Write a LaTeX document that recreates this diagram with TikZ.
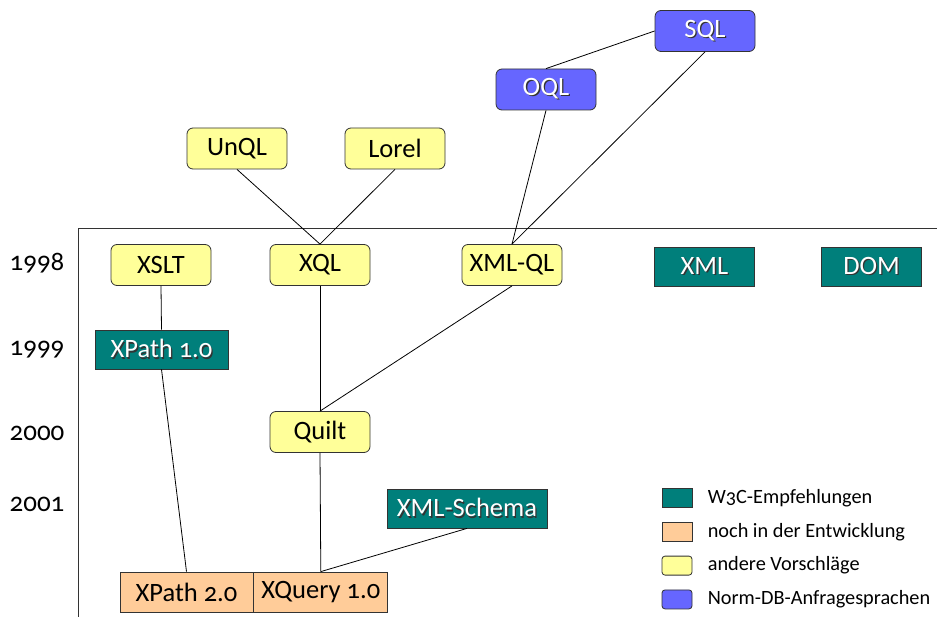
\documentclass[tikz,border=0pt]{standalone}
\usepackage{fontspec}
\setmainfont{Carlito}[Numbers=OldStyle]
\usepackage{tikz}
\usetikzlibrary{positioning}

\definecolor{wdreic}{HTML}{007F7B}
\definecolor{entwicklung}{HTML}{FFCC99}
\definecolor{vorschlag}{HTML}{FFFF99}
\definecolor{normdb}{HTML}{6666FF}

% white label with a small dark shadow
\newcommand{\schatten}[1]{\leavevmode\rlap{\kern1.3pt\raisebox{-1.3pt}{\color{black!80}#1}}#1}

\begin{document}
\begin{tikzpicture}[x=1pt,y=-1pt, line width=0.8pt,
    box/.style={draw=black!80, minimum width=100pt, minimum height=41pt, inner sep=0pt, font=\fontsize{26.5}{30}\selectfont},
    vbox/.style={box, fill=vorschlag, rounded corners=6pt},
    dbbox/.style={box, fill=normdb, rounded corners=6pt, text=white},
    wbox/.style={box, fill=wdreic, rounded corners=0pt, minimum height=39pt, text=white},
    ebox/.style={box, fill=entwicklung, minimum height=40pt},
    jahr/.style={font=\fontsize{27}{30}\selectfont},
    legbox/.style={draw=black!80, minimum width=30pt, minimum height=19pt, inner sep=0pt},
    legtext/.style={anchor=west, inner sep=0pt, font=\fontsize{20.3}{24}\selectfont}]
    \useasboundingbox (0,0) rectangle (937,617);

    % frame
    \draw[black!80] (78,617) -- (78,228) -- (937,228);

    % years
    \node[jahr] (j98) at (37,263) {1998};
    \node[jahr] (j99) at (37,350) {1999};
    \node[jahr] (j00) at (37,433) {2000};
    \node[jahr] (j01) at (37,504) {2001};

    % DB languages and other proposals
    \node[dbbox] (sql) at (705,31) {\schatten{SQL}};
    \node[dbbox] (oql) at (546,89.5) {\schatten{OQL}};
    \node[vbox] (unql) at (237,148.5) {UnQL};
    \node[vbox] (lorel) at (395,148.5) {Lorel};
    \node[vbox] (xslt) at (161,265) {XSLT};
    \node[vbox] (xql) at (320,265) {XQL};
    \node[vbox] (xmlql) at (512,265) {XML-QL};
    \node[vbox] (quilt) at (320,432) {Quilt};

    % W3C
    \node[wbox] (xml) at (704.5,266.5) {\schatten{XML}};
    \node[wbox] (dom) at (871.5,266.5) {\schatten{DOM}};
    \node[wbox, minimum width=133pt] (xpatha) at (161.5,349.5) {\schatten{XPath 1.0}};
    \node[wbox, minimum width=160pt] (schema) at (467,508.5) {\schatten{XML-Schema}};

    % in progress
    \node[ebox, minimum width=133pt] (xpathb) at (186.5,592) {XPath 2.0};
    \node[ebox, minimum width=134pt, right=0pt of xpathb] (xquery) {XQuery 1.0};

    % lines
    \draw (sql.west) -- (oql.north);
    \draw (sql.south) -- (xmlql.north);
    \draw (oql.south) -- (xmlql.north);
    \draw (unql.south) -- (xql.north);
    \draw (lorel.south) -- (xql.north);
    \draw (xslt.south) -- (xpatha.north);
    \draw (xql.south) -- (quilt.north);
    \draw (xmlql.south) -- (quilt.north);
    \draw (xpatha.south) -- (xpathb.north);
    \draw (quilt.south) -- (xquery.north);
    \draw (schema.south) -- (xquery.north);

    % legend
    \node[legbox, fill=wdreic] (lw) at (677,498) {};
    \node[legbox, fill=entwicklung, below=14pt of lw] (le) {};
    \node[legbox, fill=vorschlag, rounded corners=3pt, below=14pt of le] (lv) {};
    \node[legbox, fill=normdb, rounded corners=3pt, below=14pt of lv] (ln) {};
    \node[legtext] (tw) at ([xshift=15pt]lw.east) {W3C-Empfehlungen};
    \node[legtext] (te) at ([xshift=15pt]le.east) {noch in der Entwicklung};
    \node[legtext] (tv) at ([xshift=15pt]lv.east) {andere Vorschläge};
    \node[legtext] (tn) at ([xshift=15pt]ln.east) {Norm-DB-Anfragesprachen};
\end{tikzpicture}
\end{document}
